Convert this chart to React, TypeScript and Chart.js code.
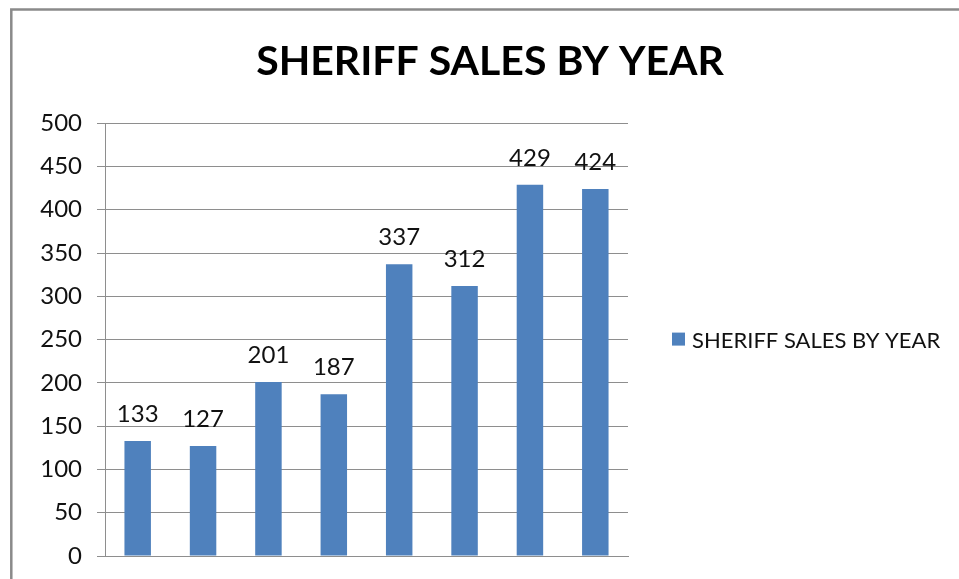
import React, { useEffect, useRef } from "react";
import { Chart, registerables } from "chart.js";

Chart.register(...registerables);

const categories = ["1", "2", "3", "4", "5", "6", "7", "8"];
const seriesName = "SHERIFF SALES BY YEAR";
const salesValues = [133, 127, 201, 187, 337, 312, 429, 424];
const titleText = "SHERIFF SALES BY YEAR";
const yMin = 0;
const yMax = 500;
const yStep = 50;

const FONT = "Lato, 'Open Sans', sans-serif";
const BAR_COLOR = "#4F81BD";

const borderPlugin = {
  id: "frameBorder",
  beforeDraw(chart: any) {
    const ctx = chart.ctx;
    ctx.save();
    ctx.strokeStyle = "#8a8a8a";
    ctx.lineWidth = 2.5;
    ctx.beginPath();
    ctx.moveTo(11.3, chart.height + 5);
    ctx.lineTo(11.3, 9.6);
    ctx.lineTo(chart.width + 5, 9.6);
    ctx.stroke();
    ctx.restore();
  },
};

const valueLabelPlugin = {
  id: "valueLabels",
  afterDatasetsDraw(chart: any) {
    const ctx = chart.ctx;
    ctx.save();
    ctx.font = `24px ${FONT}`;
    ctx.fillStyle = "#111";
    ctx.textAlign = "center";
    ctx.textBaseline = "alphabetic";
    chart.data.datasets.forEach((ds: any, di: number) => {
      const meta = chart.getDatasetMeta(di);
      meta.data.forEach((bar: any, i: number) => {
        ctx.fillText(String(ds.data[i]), bar.x, bar.y - 19);
      });
    });
    ctx.restore();
  },
};

const sideLegendPlugin = {
  id: "sideLegend",
  afterDraw(chart: any) {
    const ctx = chart.ctx;
    const area = chart.chartArea;
    const cy = (area.top + area.bottom) / 2;
    const bx = area.right + 44;
    ctx.save();
    chart.data.datasets.forEach((ds: any) => {
      ctx.fillStyle = ds.backgroundColor;
      ctx.fillRect(bx, cy - 7, 13, 13);
      ctx.font = `22px ${FONT}`;
      ctx.fillStyle = "#111";
      ctx.textAlign = "left";
      ctx.textBaseline = "middle";
      ctx.fillText(ds.label, bx + 20, cy + 1);
    });
    ctx.restore();
  },
};

export default function App() {
  const canvasRef = useRef<HTMLCanvasElement | null>(null);

  useEffect(() => {
    if (!canvasRef.current) return;
    const chart = new Chart(canvasRef.current, {
      type: "bar",
      data: {
        labels: categories,
        datasets: [
          {
            label: seriesName,
            data: salesValues,
            backgroundColor: BAR_COLOR,
            borderWidth: 0,
            barPercentage: 0.405,
            categoryPercentage: 1,
          },
        ],
      },
      plugins: [borderPlugin, valueLabelPlugin, sideLegendPlugin],
      options: {
        responsive: false,
        animation: false,
        devicePixelRatio: 1,
        layout: { padding: { left: 25, right: 4, top: 10, bottom: 23 } },
        plugins: {
          title: {
            display: true,
            text: titleText,
            color: "#000",
            font: { family: FONT, size: 41, weight: "bold" },
            padding: { top: 27, bottom: 37 },
          },
          legend: { display: false },
          tooltip: { enabled: false },
        },
        scales: {
          x: {
            grid: { display: false },
            ticks: { display: false },
            border: { display: true, color: "#8e8e8e" },
            afterFit(scale: any) {
              scale.height = 0;
            },
          },
          y: {
            min: yMin,
            max: yMax,
            ticks: {
              stepSize: yStep,
              color: "#111",
              font: { family: FONT, size: 24 },
              padding: 15,
            },
            grid: { color: "#8e8e8e", tickLength: 8, lineWidth: 1 },
            border: { display: true, color: "#8e8e8e" },
            afterFit(scale: any) {
              scale.width = 80;
              scale.paddingTop = 0;
              scale.paddingBottom = 0;
            },
          },
          legendSpace: {
            type: "linear",
            position: "right",
            display: true,
            grid: { display: false, drawTicks: false },
            ticks: { display: false },
            border: { display: false },
            afterFit(scale: any) {
              scale.width = 327;
              scale.paddingTop = 0;
              scale.paddingBottom = 0;
            },
          },
        },
      } as any,
    });
    return () => chart.destroy();
  }, []);

  return (
    <div style={{ position: "fixed", left: 0, top: 0, width: 959, height: 579, background: "#fff" }}>
      <canvas ref={canvasRef} width={959} height={579} style={{ display: "block" }} />
    </div>
  );
}
